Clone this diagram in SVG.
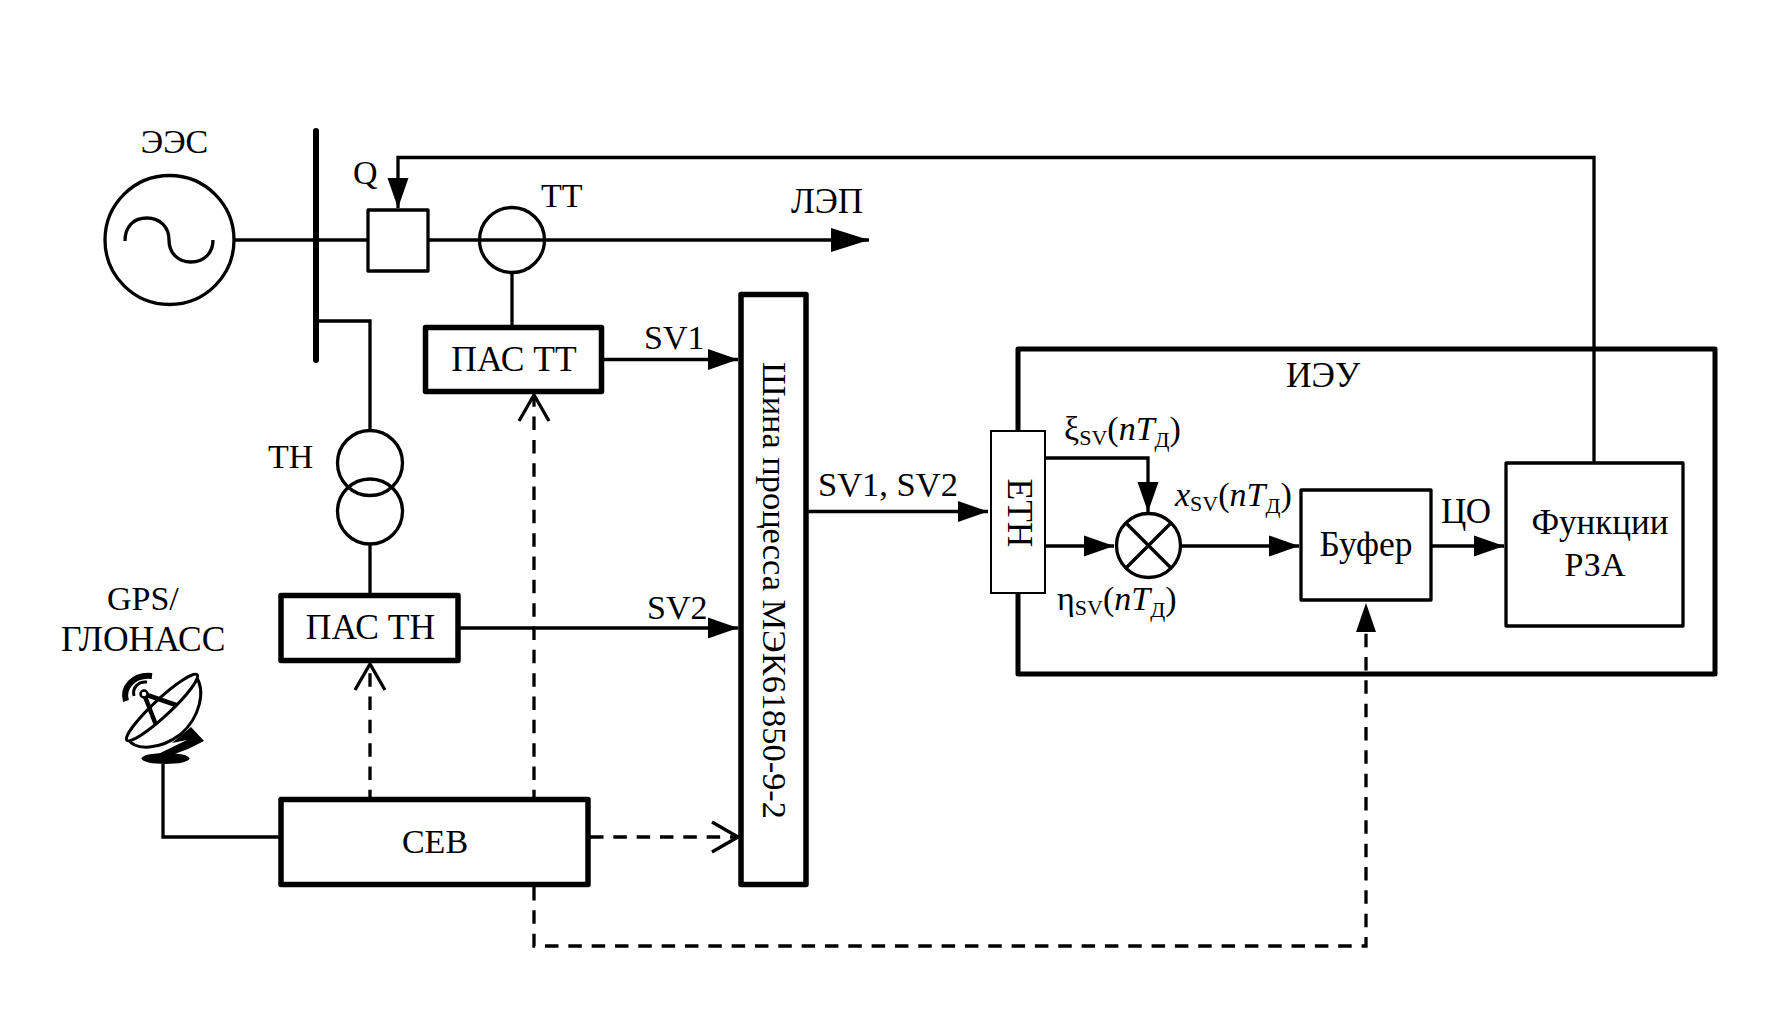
<svg xmlns="http://www.w3.org/2000/svg" width="1767" height="1035" viewBox="0 0 1767 1035">
<style>
text{font-family:"Liberation Serif","Times New Roman",serif;font-size:34px;fill:#000}
.m{text-anchor:middle}
.w{font-size:35.500px}
.i{font-style:italic}
.s{font-size:22px}
.box{fill:#fff;stroke:#000;stroke-width:3.300;stroke-linejoin:round}
.thick{fill:#fff;stroke:#000;stroke-width:5.500;stroke-linejoin:round}
.ring{fill:none;stroke:#000;stroke-width:3.300}
.l{fill:none;stroke:#000;stroke-width:3.300;stroke-linejoin:miter}
.d{fill:none;stroke:#000;stroke-width:3.300;stroke-dasharray:13.500 9.830}
.a{marker-end:url(#arrow)}
.b{marker-end:url(#big)}
.o{marker-end:url(#open)}
</style>
<defs>
<marker id="arrow" markerUnits="userSpaceOnUse" markerWidth="31" markerHeight="22" refX="30" refY="11" orient="auto"><path d="M0,0.500L30,11L0,21.500z" fill="#000"/></marker>
<marker id="big" markerUnits="userSpaceOnUse" markerWidth="39" markerHeight="26" refX="38" refY="13" orient="auto"><path d="M0,1L38,13L0,25z" fill="#000"/></marker>
<marker id="open" markerUnits="userSpaceOnUse" markerWidth="30" markerHeight="38" refX="27" refY="19" orient="auto"><path d="M1,4L27,19L1,34" fill="none" stroke="#000" stroke-width="3.300"/></marker>
</defs>
<rect width="1767" height="1035" fill="#fff"/>
<g id="ieu"><rect x="1018" y="349" width="697" height="325" fill="#fff" stroke="#000" stroke-width="5" stroke-linejoin="round"/><text x="1323" y="387" class="m w">ИЭУ</text></g>
<g id="connectors">
<path class="l" d="M234,240H368"/>
<path class="l b" d="M428,240H869"/>
<path class="l" d="M316,321H370V430"/>
<path class="l" d="M370,544V595"/>
<path class="l" d="M512,273V327"/>
<path class="l a" d="M1594,463V157.500H398V208"/>
<path class="l a" d="M603,359.500H738"/>
<path class="l a" d="M459,628H738"/>
<path class="l a" d="M807,511.500H988"/>
<path class="l a" d="M1045,458H1148V512"/>
<path class="l a" d="M1045,546H1114"/>
<path class="l a" d="M1182,546H1299"/>
<path class="l a" d="M1431,546H1504"/>
<path class="l" d="M163,764V837H282"/>
<path class="d o" stroke-dashoffset="6.330" d="M370,797V664"/>
<path class="d o" stroke-dashoffset="6.330" d="M534,797V395"/>
<path class="d o" d="M590,837H738"/>
<path class="d" d="M534,887V946H1366V632"/>
<path d="M1356,632L1366,603L1376,632z" fill="#000"/>
</g>
<g id="generator"><circle class="ring" cx="169.500" cy="240" r="64.500"/><path class="ring" d="M125,241C125,226 134,218 147,218C160,218 169,227 169,240C169,253 178,262 191,262C204,262 213,253 213,240"/><text x="174.500" y="153" class="m">ЭЭС</text></g>
<g id="bus"><line x1="316" y1="131" x2="316" y2="360" stroke="#000" stroke-width="6" stroke-linecap="round"/></g>
<g id="breaker"><rect class="box" x="368" y="210" width="60" height="61"/><text x="353" y="184">Q</text></g>
<g id="ct"><circle class="ring" cx="512" cy="240" r="32.500"/><text x="541" y="207">ТТ</text></g>
<g id="line-label"><text x="791" y="213" style="font-size:35px">ЛЭП</text></g>
<g id="vt"><circle class="ring" cx="370" cy="463" r="32.500"/><circle class="ring" cx="370" cy="511.500" r="32.500"/><text x="268" y="468">ТН</text></g>
<g id="pas-tt"><rect class="thick" x="425.500" y="327.500" width="176" height="64"/><text x="514" y="371" class="m w">ПАС ТТ</text></g>
<g id="pas-tn"><rect class="thick" x="281" y="595.500" width="177" height="65"/><text x="370.500" y="639" class="m w">ПАС ТН</text></g>
<g id="sev"><rect class="thick" x="281" y="799.500" width="307" height="85"/><text x="435" y="853" class="m">СЕВ</text></g>
<g id="process-bus"><rect class="thick" x="741" y="294.500" width="65" height="590"/><text transform="translate(763,590.500) rotate(90)" class="m" style="font-size:34.400px">Шина процесса МЭК61850-9-2</text></g>
<g id="eth"><rect x="991" y="431" width="54" height="162" fill="#fff" stroke="#000" stroke-width="2"/><text transform="translate(1008,513) rotate(90)" class="m w">ЕТН</text></g>
<g id="multiplier"><circle cx="1148.500" cy="545.500" r="32" fill="#fff" stroke="#000" stroke-width="3.300"/><path class="l" d="M1126,523L1171,568M1171,523L1126,568"/></g>
<g id="buffer"><rect class="box" x="1301" y="490" width="130" height="110"/><text x="1366" y="556" class="m w">Буфер</text></g>
<g id="rza"><rect class="box" x="1506" y="463" width="177" height="163"/><text x="1600" y="534" class="m" style="font-size:35px">Функции</text><text x="1595" y="576" class="m">РЗА</text></g>
<g id="labels">
<text x="644" y="349">SV1</text>
<text x="647" y="619">SV2</text>
<text x="818" y="496" style="font-size:34.500px">SV1, SV2</text>
<text x="1441" y="523" style="font-size:35px">ЦО</text>
<text x="107" y="610">GPS/</text>
<text x="61" y="651" class="w">ГЛОНАСС</text>
<text x="1064" y="440">ξ<tspan class="s" dy="5">SV</tspan><tspan dy="-5">(</tspan><tspan class="i">nT</tspan><tspan class="s" dy="7">Д</tspan><tspan dy="-7">)</tspan></text>
<text x="1175" y="506"><tspan class="i">x</tspan><tspan class="s" dy="5">SV</tspan><tspan dy="-5">(</tspan><tspan class="i">nT</tspan><tspan class="s" dy="7">Д</tspan><tspan dy="-7">)</tspan></text>
<text x="1057" y="610">η<tspan class="s" dy="5">SV</tspan><tspan dy="-5">(</tspan><tspan class="i">nT</tspan><tspan class="s" dy="7">Д</tspan><tspan dy="-7">)</tspan></text>
</g>
<g id="antenna">
<ellipse cx="165.500" cy="758.500" rx="24" ry="5.500" fill="#000"/>
<path d="M191,727L204,741L188,749L172,755L152,757L187,740L172,743z" fill="#000"/>
<path d="M128,739C135,751 160,750 181,734C199,718 207,691 195,675" fill="#fff" stroke="#000" stroke-width="3"/>
<ellipse cx="162" cy="707.500" rx="48" ry="8.500" transform="rotate(-43 162 707.500)" fill="#fff" stroke="#000" stroke-width="3"/>
<path d="M144,694L176,705M144,694L156,725" stroke="#000" stroke-width="4.500" fill="none"/>
<circle cx="144" cy="694" r="3.500" fill="#fff" stroke="#000" stroke-width="2.500"/>
<path d="M126,701C122,688 133,674 152,676" fill="none" stroke="#000" stroke-width="6"/>
<path d="M134,696C132,688 138,681 147,682" fill="none" stroke="#000" stroke-width="3"/>
</g>
</svg>
